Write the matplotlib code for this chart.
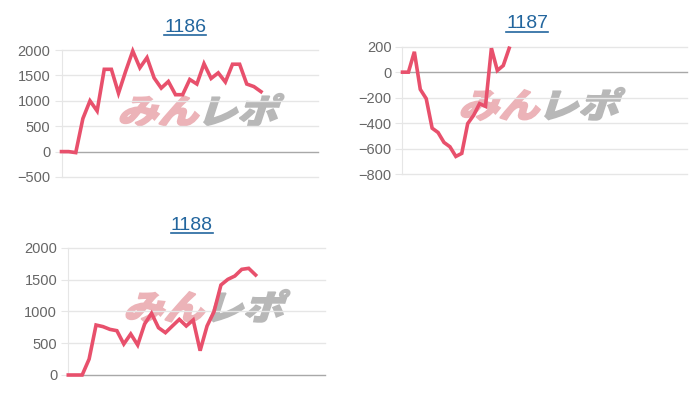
import numpy as np
import matplotlib
matplotlib.use("Agg")
import matplotlib.pyplot as plt
from matplotlib.textpath import TextPath
from matplotlib.patches import PathPatch
from matplotlib.font_manager import FontProperties
from matplotlib.transforms import Affine2D
from matplotlib.lines import Line2D

# data
titles = ["1186", "1187", "1188"]
values_1186 = [0, 0, -20, 650, 1000, 800, 1620, 1620, 1150, 1580, 1980, 1650,
               1850, 1450, 1250, 1380, 1120, 1120, 1420, 1330, 1730, 1440, 1550,
               1370, 1720, 1720, 1330, 1280, 1180]
values_1187 = [0, 0, 160, -135, -208, -440, -474, -552, -586, -662, -638, -404,
               -339, -247, -268, 188, 13, 52, 188]
values_1188 = [0, 0, 0, 250, 785, 760, 717, 696, 487, 644, 471, 801, 969, 743,
               665, 770, 874, 770, 864, 382, 770, 995, 1414, 1503, 1555, 1660,
               1676, 1571]
n_labels = [37, 49, 38]
y_ranges = [(-500, 2000, 500), (-800, 200, 200), (0, 2000, 500)]

W, H = 700, 400
LINE = "#e8506c"
TICK = "#666666"
GRID = "#e6e6e6"
ZERO = "#a8a8a8"
TITLE = "#23669e"

plt.rcParams['font.family'] = ['Liberation Sans', 'DejaVu Sans']

fig = plt.figure(figsize=(7, 4), dpi=100)

# axes boxes in pixels: left, top, right, bottom
boxes = [(61.5, 50, 318, 177), (402.5, 46.7, 687, 174), (68.3, 247.7, 325, 375)]
title_pos = [(185, 27), (527, 24), (192, 225)]
mark_pos = [(202, 110), (543, 104), (208, 306)]
series = [values_1186, values_1187, values_1188]

fp = FontProperties(family='Noto Sans CJK JP', weight='black')


def watermark(cx, cy):
    size = 36
    parts = [("みん", "#ecb3b8"), ("レポ", "#b8b8b8")]
    paths = [TextPath((0, 0), s, size=size, prop=fp) for s, _ in parts]
    skew = Affine2D().scale(1.12, 0.95).skew_deg(18, 0)
    exts = [p.transformed(skew).get_extents() for p in paths]
    gap = 5
    total = sum(e.width for e in exts) + gap
    hgt = max(e.y1 for e in exts) - min(e.y0 for e in exts)
    y0 = min(e.y0 for e in exts)
    x = cx - total / 2
    ybase = (H - cy) - hgt / 2 - y0
    for (s, c), p, e in zip(parts, paths, exts):
        tr = skew + Affine2D().translate(x - e.x0, ybase)
        fig.add_artist(PathPatch(p, transform=tr, facecolor=c, edgecolor=c, lw=1.2,
                                 zorder=-1))
        x += e.width + gap


axes = []
for i in range(3):
    l, t, r, b = boxes[i]
    ax = fig.add_axes([l / W, 1 - b / H, (r - l) / W, (b - t) / H])
    lo, hi, step = y_ranges[i]
    ax.set_ylim(lo, hi)
    ax.set_xlim(0, n_labels[i] - 1)
    ticks = np.arange(lo, hi + 1, step)
    ax.set_yticks(ticks)
    ax.set_xticks([])
    for v in ticks:
        ax.axhline(v, color=ZERO if v == 0 else GRID, lw=1, zorder=1, clip_on=False)
    for s in ['top', 'right', 'bottom']:
        ax.spines[s].set_visible(False)
    ax.spines['left'].set_color(GRID)
    ax.tick_params(axis='y', length=5, color=GRID, labelcolor=TICK, labelsize=10.5, pad=3)
    x = np.arange(len(series[i]))
    ax.plot(x, series[i], color=LINE, lw=2.6, zorder=5, solid_joinstyle='miter',
            clip_on=False)
    ax.patch.set_alpha(0)
    axes.append(ax)

for i in range(3):
    watermark(*mark_pos[i])

texts = []
for i in range(3):
    tx, ty = title_pos[i]
    texts.append(fig.text(tx / W, 1 - ty / H, titles[i], color=TITLE, fontsize=14,
                          ha='center', va='center'))

fig.canvas.draw()
for t in texts:
    bb = t.get_window_extent()
    fig.add_artist(Line2D([bb.x0, bb.x1], [bb.y0 + 1, bb.y0 + 1], color=TITLE, lw=1.2,
                          transform=None))

fig.savefig("out.png", dpi=100)
